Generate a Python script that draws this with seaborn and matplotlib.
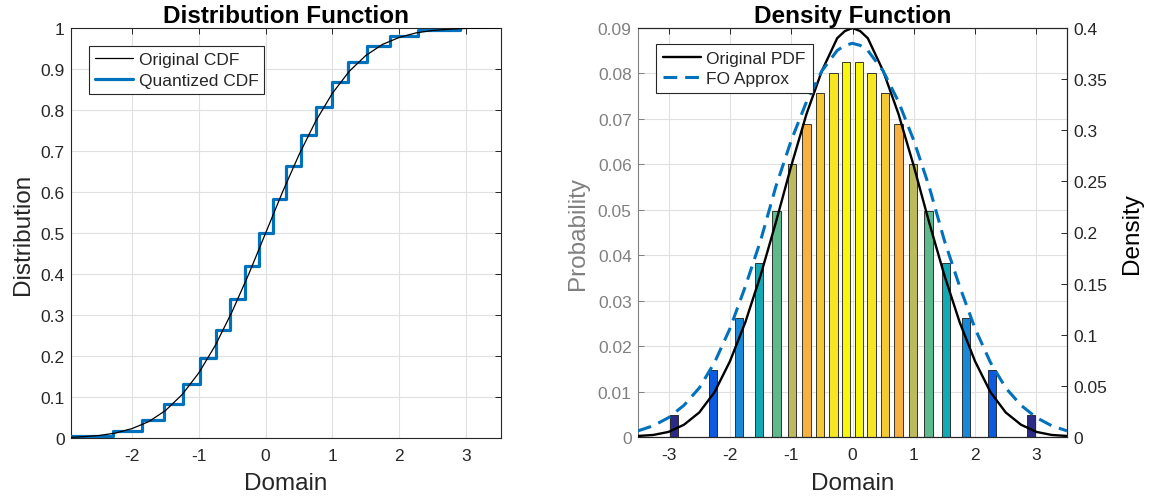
import matplotlib
matplotlib.use("Agg")
import matplotlib.pyplot as plt
import seaborn as sns

# ---------------- data ----------------
levels = [-2.915, -2.28, -1.855, -1.525, -1.24, -0.99, -0.75, -0.53, -0.31, -0.107,
          0.107, 0.31, 0.53, 0.75, 0.99, 1.24, 1.525, 1.855, 2.28, 2.915]
probs = [0.0048, 0.0147, 0.0262, 0.0382, 0.0497, 0.0600, 0.0688, 0.0757, 0.0802, 0.0826,
         0.0826, 0.0802, 0.0757, 0.0688, 0.0600, 0.0497, 0.0382, 0.0262, 0.0147, 0.0048]
cdf_steps = [0.005, 0.018, 0.044, 0.083, 0.132, 0.194, 0.264, 0.338, 0.419, 0.500,
             0.583, 0.664, 0.738, 0.808, 0.868, 0.918, 0.956, 0.981, 0.995, 1.000]

cdf_x = [-3.0, -2.75, -2.5, -2.25, -2.0, -1.75, -1.5, -1.25, -1.0, -0.75, -0.5, -0.25, 0.0,
         0.25, 0.5, 0.75, 1.0, 1.25, 1.5, 1.75, 2.0, 2.25, 2.5, 2.75, 3.0, 3.25, 3.5]
orig_cdf = [0.001, 0.003, 0.006, 0.012, 0.023, 0.040, 0.067, 0.106, 0.159, 0.227, 0.309, 0.401, 0.500,
            0.599, 0.691, 0.773, 0.841, 0.894, 0.933, 0.960, 0.977, 0.988, 0.994, 0.997, 0.999, 0.9995, 1.000]

pdf_x = [-3.5, -3.25, -3.0, -2.75, -2.5, -2.25, -2.0, -1.75, -1.5, -1.25, -1.0, -0.75, -0.5, -0.25, -0.125,
         0.0, 0.125, 0.25, 0.5, 0.75, 1.0, 1.25, 1.5, 1.75, 2.0, 2.25, 2.5, 2.75, 3.0, 3.25, 3.5]
orig_pdf = [0.001, 0.002, 0.005, 0.012, 0.024, 0.044, 0.074, 0.112, 0.158, 0.210, 0.265, 0.316, 0.358, 0.390, 0.397,
            0.400, 0.397, 0.390, 0.358, 0.316, 0.265, 0.210, 0.158, 0.112, 0.074, 0.044, 0.024, 0.012, 0.005, 0.002, 0.001]
fo_pdf = [0.006, 0.011, 0.019, 0.031, 0.048, 0.073, 0.106, 0.147, 0.192, 0.245, 0.290, 0.328, 0.358, 0.378, 0.383,
          0.385, 0.383, 0.378, 0.358, 0.328, 0.290, 0.245, 0.192, 0.147, 0.106, 0.073, 0.048, 0.031, 0.019, 0.011, 0.006]

bar_colors = ['#2b2a87', '#0b5ae0', '#1889d6', '#12a9b4', '#5eb98c', '#bcb95e', '#f6b140', '#f5c934', '#f6e622', '#f8f60f',
              '#f8f60f', '#f6e622', '#f5c934', '#f6b140', '#bcb95e', '#5eb98c', '#12a9b4', '#1889d6', '#0b5ae0', '#2b2a87']

cdf_yticks = [0, 0.1, 0.2, 0.3, 0.4, 0.5, 0.6, 0.7, 0.8, 0.9, 1.0]
cdf_yticklabels = ['0', '0.1', '0.2', '0.3', '0.4', '0.5', '0.6', '0.7', '0.8', '0.9', '1']
prob_yticks = [0, 0.01, 0.02, 0.03, 0.04, 0.05, 0.06, 0.07, 0.08, 0.09]
prob_yticklabels = ['0', '0.01', '0.02', '0.03', '0.04', '0.05', '0.06', '0.07', '0.08', '0.09']
dens_yticks = [0, 0.05, 0.1, 0.15, 0.2, 0.25, 0.3, 0.35, 0.4]
dens_yticklabels = ['0', '0.05', '0.1', '0.15', '0.2', '0.25', '0.3', '0.35', '0.4']

# ---------------- style ----------------
sns.set_style("white")
plt.rcParams['font.family'] = ['Liberation Sans', 'DejaVu Sans']
plt.rcParams['axes.axisbelow'] = True

BLUE = '#0072BD'
DARK = '#262626'
GRAY = '#808080'
GRID = '#e0e0e0'
TICK_FS = 12.5
LAB_FS = 17.5

W, H = 1153, 502
fig = plt.figure(figsize=(W / 100, H / 100), dpi=100)
axL = fig.add_axes([71 / W, 1 - 439 / H, (500.7 - 71) / W, (439 - 29) / H])
axR = fig.add_axes([638 / W, 1 - 438 / H, (1067 - 638) / W, (438 - 29) / H])

# ---------------- left: CDF ----------------
sns.lineplot(x=cdf_x, y=orig_cdf, ax=axL, color='black', lw=0.9, label='Original CDF',
             sort=False, estimator=None, zorder=4)
sns.lineplot(x=levels, y=cdf_steps, ax=axL, color=BLUE, lw=2.3, label='Quantized CDF',
             sort=False, estimator=None, drawstyle='steps-post', zorder=3)
axL.set_xlim(-2.915, 3.52)
axL.set_ylim(0, 1)
axL.set_xticks([-2, -1, 0, 1, 2, 3])
axL.set_xticklabels(['-2', '-1', '0', '1', '2', '3'])
axL.set_yticks(cdf_yticks)
axL.set_yticklabels(cdf_yticklabels)
axL.grid(True, color=GRID, lw=0.8)
axL.tick_params(axis='both', direction='in', length=4, width=0.7, top=True, right=True,
                labelsize=TICK_FS, colors=DARK)
axL.tick_params(axis='x', pad=7.5)
axL.tick_params(axis='y', pad=4.5)
for s in axL.spines.values():
    s.set_color(DARK)
    s.set_linewidth(0.8)
axL.set_title('Distribution Function', fontsize=LAB_FS, fontweight='bold', pad=4.5, color='black')
axL.set_xlabel('Domain', fontsize=LAB_FS, color=DARK)
axL.set_ylabel('Distribution', fontsize=LAB_FS, color=DARK)
axL.xaxis.set_label_coords(0.5, -0.083)
axL.yaxis.set_label_coords(-0.087, 0.5)
legL = axL.legend(loc='upper left', bbox_to_anchor=(0.042, 0.956), borderaxespad=0,
                  fontsize=TICK_FS, frameon=True, fancybox=False, framealpha=1,
                  edgecolor=DARK, handlelength=2.2, handletextpad=0.3, borderpad=0.35,
                  labelspacing=0.3)
legL.get_frame().set_linewidth(0.8)

# ---------------- right: PDF ----------------
axR.bar(levels, probs, width=0.135, color=bar_colors, edgecolor='#1a1a1a', linewidth=0.6, zorder=2)
axR.set_xlim(-3.5, 3.5)
axR.set_ylim(0, 0.09)
axR.set_xticks([-3, -2, -1, 0, 1, 2, 3])
axR.set_xticklabels(['-3', '-2', '-1', '0', '1', '2', '3'])
axR.set_yticks(prob_yticks)
axR.set_yticklabels(prob_yticklabels)
axR.grid(True, color=GRID, lw=0.8)
axR.tick_params(axis='x', direction='in', length=4, width=0.7, top=True, labelsize=TICK_FS,
                colors=DARK, pad=7.5)
axR.tick_params(axis='y', direction='in', length=4, width=0.7, right=False, labelsize=TICK_FS,
                colors=GRAY, pad=4.5)
for s in axR.spines.values():
    s.set_color(DARK)
    s.set_linewidth(0.8)
axR.spines['left'].set_color(GRAY)
axR.set_title('Density Function', fontsize=LAB_FS, fontweight='bold', pad=4.5, color='black')
axR.set_xlabel('Domain', fontsize=LAB_FS, color=DARK)
axR.set_ylabel('Probability', fontsize=LAB_FS, color=GRAY)
axR.xaxis.set_label_coords(0.5, -0.0856)
axR.yaxis.set_label_coords(-0.114, 0.5)

ax2 = axR.twinx()
sns.lineplot(x=pdf_x, y=orig_pdf, ax=ax2, color='black', lw=1.7, label='Original PDF',
             sort=False, estimator=None)
sns.lineplot(x=pdf_x, y=fo_pdf, ax=ax2, color=BLUE, lw=2.2, label='FO Approx',
             sort=False, estimator=None, linestyle=(0, (4.5, 2.6)))
ax2.set_ylim(0, 0.4)
ax2.set_yticks(dens_yticks)
ax2.set_yticklabels(dens_yticklabels)
ax2.grid(False)
ax2.tick_params(axis='y', direction='in', length=4, width=0.7, labelsize=TICK_FS, colors=DARK, pad=4.5)
for s in ax2.spines.values():
    s.set_color(DARK)
    s.set_linewidth(0.8)
ax2.spines['left'].set_visible(False)
ax2.set_ylabel('Density', fontsize=LAB_FS, color='black')
ax2.yaxis.set_label_coords(1.126, 0.5)
legR = ax2.legend(loc='upper left', bbox_to_anchor=(0.042, 0.962), borderaxespad=0,
                  fontsize=TICK_FS, frameon=True, fancybox=False, framealpha=1,
                  edgecolor=DARK, handlelength=2.2, handletextpad=0.3, borderpad=0.4,
                  labelspacing=0.3)
legR.get_frame().set_linewidth(0.8)

fig.savefig('out.png', dpi=100)
